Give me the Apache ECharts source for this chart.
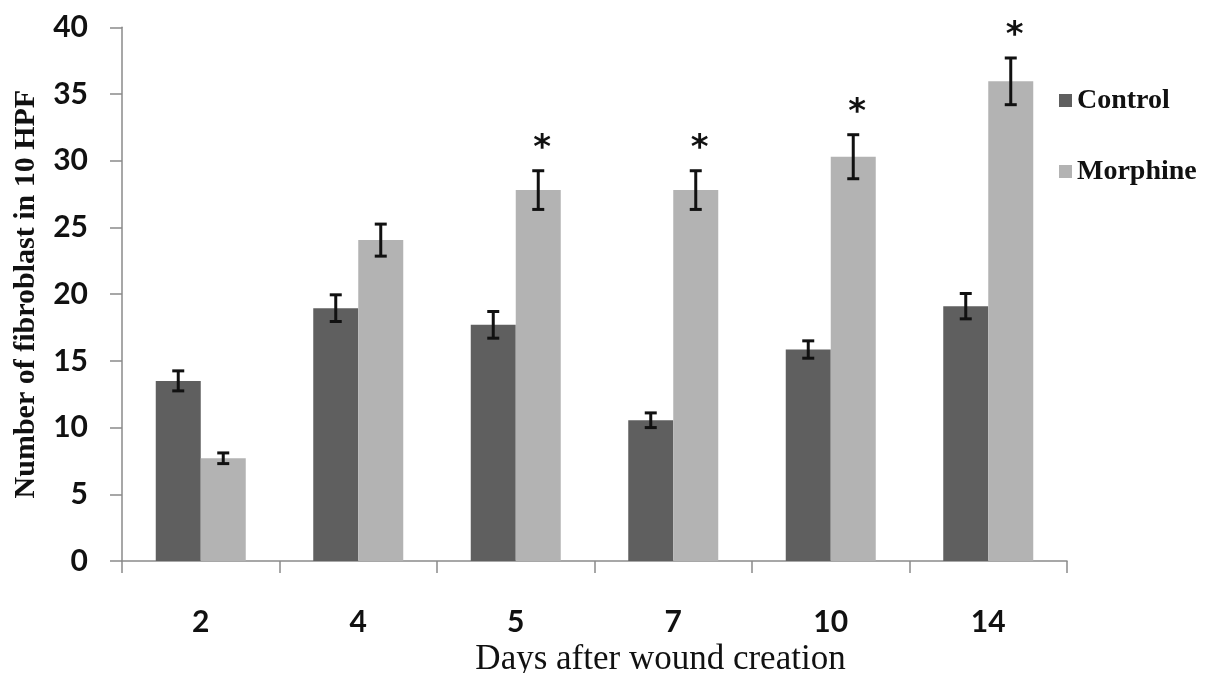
<!DOCTYPE html>
<html>
<head>
<meta charset="utf-8">
<title>Fibroblast count after wound creation</title>
<script src="https://cdn.jsdelivr.net/npm/echarts@6/dist/echarts.min.js"></script>
<style>
  html, body { margin: 0; padding: 0; background: #ffffff; }
  #chart { width: 1205px; height: 673px; }
</style>
</head>
<body>
<div id="chart"></div>
<script>
// Days after wound creation
const days = ['2', '4', '5', '7', '10', '14'];

// Mean fibroblast counts in 10 HPF and their error bars
const controlMean = [13.5, 18.95, 17.7, 10.55, 15.85, 19.1];
const controlErr = [0.75, 1.0, 1.0, 0.55, 0.65, 0.95];
const morphineMean = [7.7, 24.05, 27.8, 27.8, 30.3, 35.95];
const morphineErr = [0.4, 1.2, 1.45, 1.45, 1.65, 1.75];

// Days where the morphine group differs significantly (*)
const morphineSignificant = [false, false, true, true, true, true];

// Value-axis ticks
const yTicks = [0, 5, 10, 15, 20, 25, 30, 35, 40];

const BAR_WIDTH = 45;
const CONTROL_COLOR = '#5f5f5f';
const MORPHINE_COLOR = '#b3b3b3';
const AXIS_COLOR = '#8a8a8a';
const TICK_FONT = 'Lato';
const SERIF = '"Liberation Serif", "DejaVu Serif", serif';

function errorRows(means, errs) {
  return means.map((m, i) => [i, m, errs[i]]);
}

function makeErrorRenderer(offset) {
  return function (params, api) {
    const i = api.value(0);
    const m = api.value(1);
    const e = api.value(2);
    const top = api.coord([i, m + e]);
    const bot = api.coord([i, m - e]);
    const x = top[0] + offset;
    const cap = 6;
    const style = { stroke: '#111111', lineWidth: 3 };
    return {
      type: 'group',
      children: [
        { type: 'line', shape: { x1: x, y1: top[1], x2: x, y2: bot[1] }, style: style },
        { type: 'line', shape: { x1: x - cap, y1: top[1], x2: x + cap, y2: top[1] }, style: style },
        { type: 'line', shape: { x1: x - cap, y1: bot[1], x2: x + cap, y2: bot[1] }, style: style }
      ]
    };
  };
}

const starRows = morphineMean
  .map((m, i) => [i, m, morphineErr[i], morphineSignificant[i] ? 1 : 0])
  .filter(r => r[3] === 1);

const chart = echarts.init(document.getElementById('chart'), null, { renderer: 'canvas' });

const option = {
  animation: false,
  backgroundColor: '#ffffff',
  grid: {
    left: 122, right: 138, top: 27.3, bottom: 112,
    containLabel: false,
    outerBoundsMode: 'none'
  },
  legend: {
    orient: 'vertical',
    left: 1054,
    top: 81,
    itemWidth: 13,
    itemHeight: 13,
    itemGap: 42,
    icon: 'rect',
    data: ['Control', 'Morphine'],
    textStyle: {
      fontFamily: SERIF,
      fontWeight: 'bold',
      fontSize: 28,
      lineHeight: 29,
      color: '#111111'
    }
  },
  xAxis: {
    type: 'category',
    data: days,
    boundaryGap: true,
    name: 'Days after wound creation',
    nameLocation: 'middle',
    nameGap: 73,
    nameTextStyle: {
      fontFamily: SERIF,
      fontSize: 35,
      color: '#111111',
      padding: [0, 0, 0, 132]
    },
    axisLine: { show: true, lineStyle: { color: AXIS_COLOR, width: 1.5 } },
    axisTick: { show: true, length: 12, inside: false, lineStyle: { color: AXIS_COLOR, width: 1.5 } },
    axisLabel: {
      margin: 46,
      fontFamily: TICK_FONT,
      fontWeight: 'bold',
      fontSize: 30,
      color: '#111111'
    },
    splitLine: { show: false }
  },
  yAxis: {
    type: 'value',
    min: yTicks[0],
    max: yTicks[yTicks.length - 1],
    interval: yTicks[1] - yTicks[0],
    name: 'Number of fibroblast in 10 HPF',
    nameLocation: 'middle',
    nameGap: 81,
    nameRotate: 90,
    nameTextStyle: {
      fontFamily: SERIF,
      fontWeight: 'bold',
      fontSize: 30,
      color: '#111111'
    },
    axisLine: { show: true, lineStyle: { color: AXIS_COLOR, width: 1.5 } },
    axisTick: { show: true, length: 12, inside: false, lineStyle: { color: AXIS_COLOR, width: 1.5 } },
    axisLabel: {
      margin: 34,
      fontFamily: TICK_FONT,
      fontWeight: 'bold',
      fontSize: 30,
      color: '#111111'
    },
    splitLine: { show: false }
  },
  series: [
    {
      name: 'Control',
      type: 'bar',
      data: controlMean,
      barWidth: BAR_WIDTH,
      barGap: '0%',
      itemStyle: { color: CONTROL_COLOR },
      z: 2
    },
    {
      name: 'Morphine',
      type: 'bar',
      data: morphineMean,
      barWidth: BAR_WIDTH,
      barGap: '0%',
      itemStyle: { color: MORPHINE_COLOR },
      z: 2
    },
    {
      name: 'Control error',
      type: 'custom',
      data: errorRows(controlMean, controlErr),
      encode: { x: 0, y: 1 },
      renderItem: makeErrorRenderer(-BAR_WIDTH / 2),
      clip: false,
      z: 5,
      silent: true
    },
    {
      name: 'Morphine error',
      type: 'custom',
      data: errorRows(morphineMean, morphineErr),
      encode: { x: 0, y: 1 },
      renderItem: makeErrorRenderer(BAR_WIDTH / 2),
      clip: false,
      z: 5,
      silent: true
    },
    {
      name: 'Significance',
      type: 'custom',
      data: starRows,
      encode: { x: 0, y: 1 },
      clip: false,
      z: 6,
      silent: true,
      renderItem: function (params, api) {
        const i = api.value(0);
        const top = api.coord([i, api.value(1) + api.value(2)]);
        return {
          type: 'text',
          x: top[0] + BAR_WIDTH / 2 + 4,
          y: top[1] - 22,
          style: {
            text: '*',
            fontFamily: 'DejaVu Sans',
            fontWeight: 'bold',
            fontSize: 34,
            fill: '#111111',
            align: 'center',
            verticalAlign: 'middle'
          }
        };
      }
    }
  ]
};

chart.setOption(option);
</script>
</body>
</html>
